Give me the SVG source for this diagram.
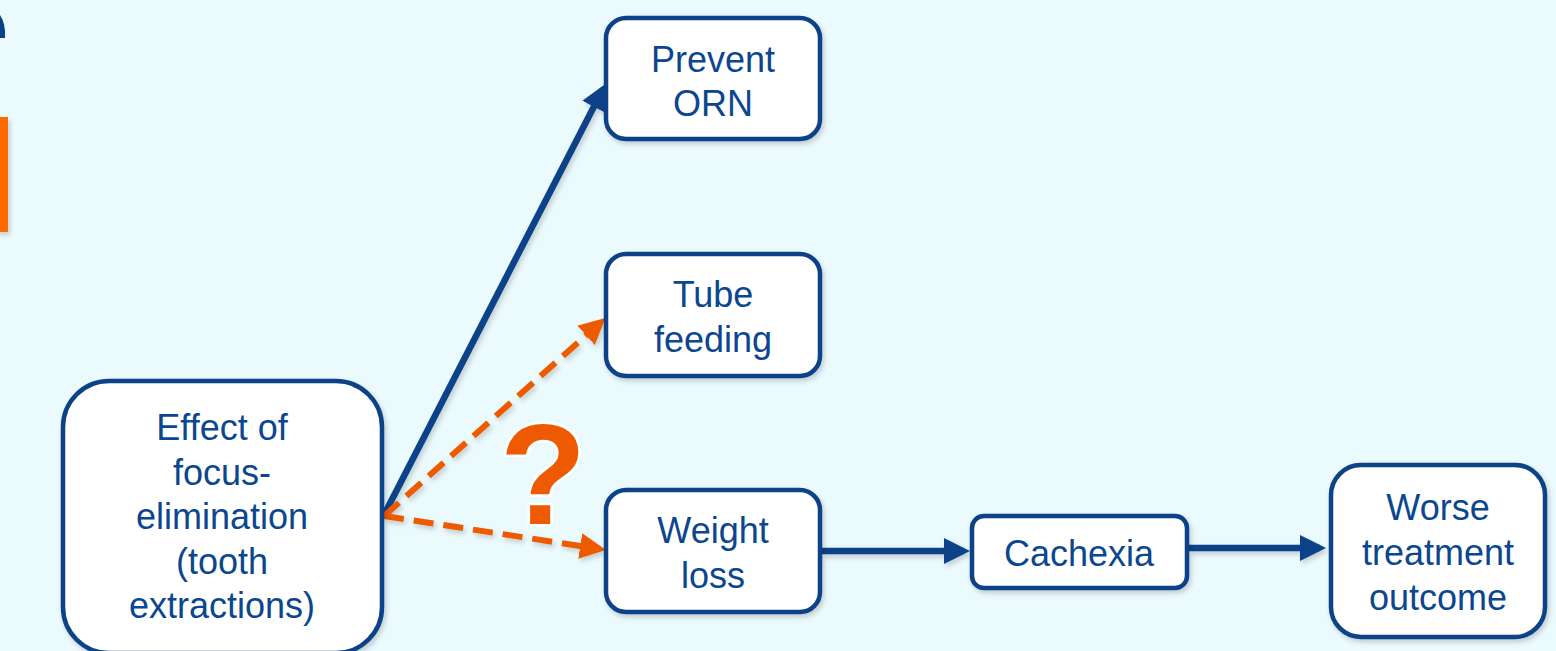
<svg xmlns="http://www.w3.org/2000/svg" width="1556" height="651" viewBox="0 0 1556 651">
  <defs>
    <style>
      .box { fill: #ffffff; stroke: #0A4289; stroke-width: 4.5; filter: url(#sh); }
      .lbl { font-family: "Liberation Sans", Arial, sans-serif; font-size: 36px; fill: #0B468F; text-anchor: middle; }
      .blue { stroke: #0A4289; stroke-width: 6.5; fill: none; }
      .orange { stroke: #EE5A02; stroke-width: 6; fill: none; stroke-dasharray: 20 10; }
    </style>
    <filter id="sh" x="-10%" y="-10%" width="125%" height="125%">
      <feDropShadow dx="2" dy="3" stdDeviation="2.5" flood-color="#000" flood-opacity="0.18"/>
    </filter>
    <filter id="shu" filterUnits="userSpaceOnUse" x="0" y="0" width="1556" height="651">
      <feDropShadow dx="2" dy="3" stdDeviation="2.5" flood-color="#000" flood-opacity="0.18"/>
    </filter>
    <marker id="ab" markerUnits="userSpaceOnUse" markerWidth="28" markerHeight="26" refX="20" refY="13" orient="auto">
      <path d="M0,0 L26,13 L0,26 Z" fill="#0A4289"/>
    </marker>
    <marker id="ao" markerUnits="userSpaceOnUse" markerWidth="28" markerHeight="26" refX="20" refY="13" orient="auto">
      <path d="M0,0 L26,13 L0,26 Z" fill="#EE5A02"/>
    </marker>
  </defs>
  <rect x="0" y="0" width="1556" height="651" fill="#EBFAFD"/>

  <!-- cut-off shapes at left edge -->
  <path d="M0,15 Q6,24 5,38 L0,38 Z" fill="#0A4289"/>
  <rect x="-4" y="117" width="12" height="115" fill="#FF6A00" filter="url(#shu)"/>

  <g id="connectors" filter="url(#shu)">
    <line class="blue" x1="384" y1="515" x2="603" y2="89" marker-end="url(#ab)"/>
    <line class="orange" x1="384" y1="516" x2="601" y2="322" marker-end="url(#ao)"/>
    <line class="orange" x1="384" y1="516" x2="600" y2="549" marker-end="url(#ao)"/>
    <line class="blue" x1="822" y1="551" x2="964" y2="551" marker-end="url(#ab)"/>
    <line class="blue" x1="1189" y1="548" x2="1320" y2="548" marker-end="url(#ab)"/>
  </g>

  <g id="question">
    <text x="543" y="524" font-family="Liberation Sans, Arial, sans-serif" font-weight="bold" font-size="142" fill="#EE5A02" stroke="#ffffff" stroke-width="5" paint-order="stroke" text-anchor="middle">?</text>
  </g>

  <g id="effect">
    <rect class="box" x="63" y="381" width="319" height="272" rx="46"/>
    <text class="lbl" x="222" y="440">Effect of</text>
    <text class="lbl" x="222" y="485">focus-</text>
    <text class="lbl" x="222" y="529">elimination</text>
    <text class="lbl" x="222" y="574">(tooth</text>
    <text class="lbl" x="222" y="618">extractions)</text>
  </g>

  <g id="prevent">
    <rect class="box" x="606" y="18" width="214" height="121" rx="20"/>
    <text class="lbl" x="713" y="72">Prevent</text>
    <text class="lbl" x="713" y="116">ORN</text>
  </g>

  <g id="tube">
    <rect class="box" x="606" y="254" width="214" height="122" rx="20"/>
    <text class="lbl" x="713" y="307">Tube</text>
    <text class="lbl" x="713" y="352">feeding</text>
  </g>

  <g id="weight">
    <rect class="box" x="606" y="490" width="214" height="122" rx="20"/>
    <text class="lbl" x="713" y="543">Weight</text>
    <text class="lbl" x="713" y="588">loss</text>
  </g>

  <g id="cachexia">
    <rect class="box" x="972" y="516" width="215" height="72" rx="12"/>
    <text class="lbl" x="1079" y="566">Cachexia</text>
  </g>

  <g id="worse">
    <rect class="box" x="1331" y="465" width="214" height="172" rx="30"/>
    <text class="lbl" x="1438" y="520">Worse</text>
    <text class="lbl" x="1438" y="565">treatment</text>
    <text class="lbl" x="1438" y="610">outcome</text>
  </g>
</svg>
